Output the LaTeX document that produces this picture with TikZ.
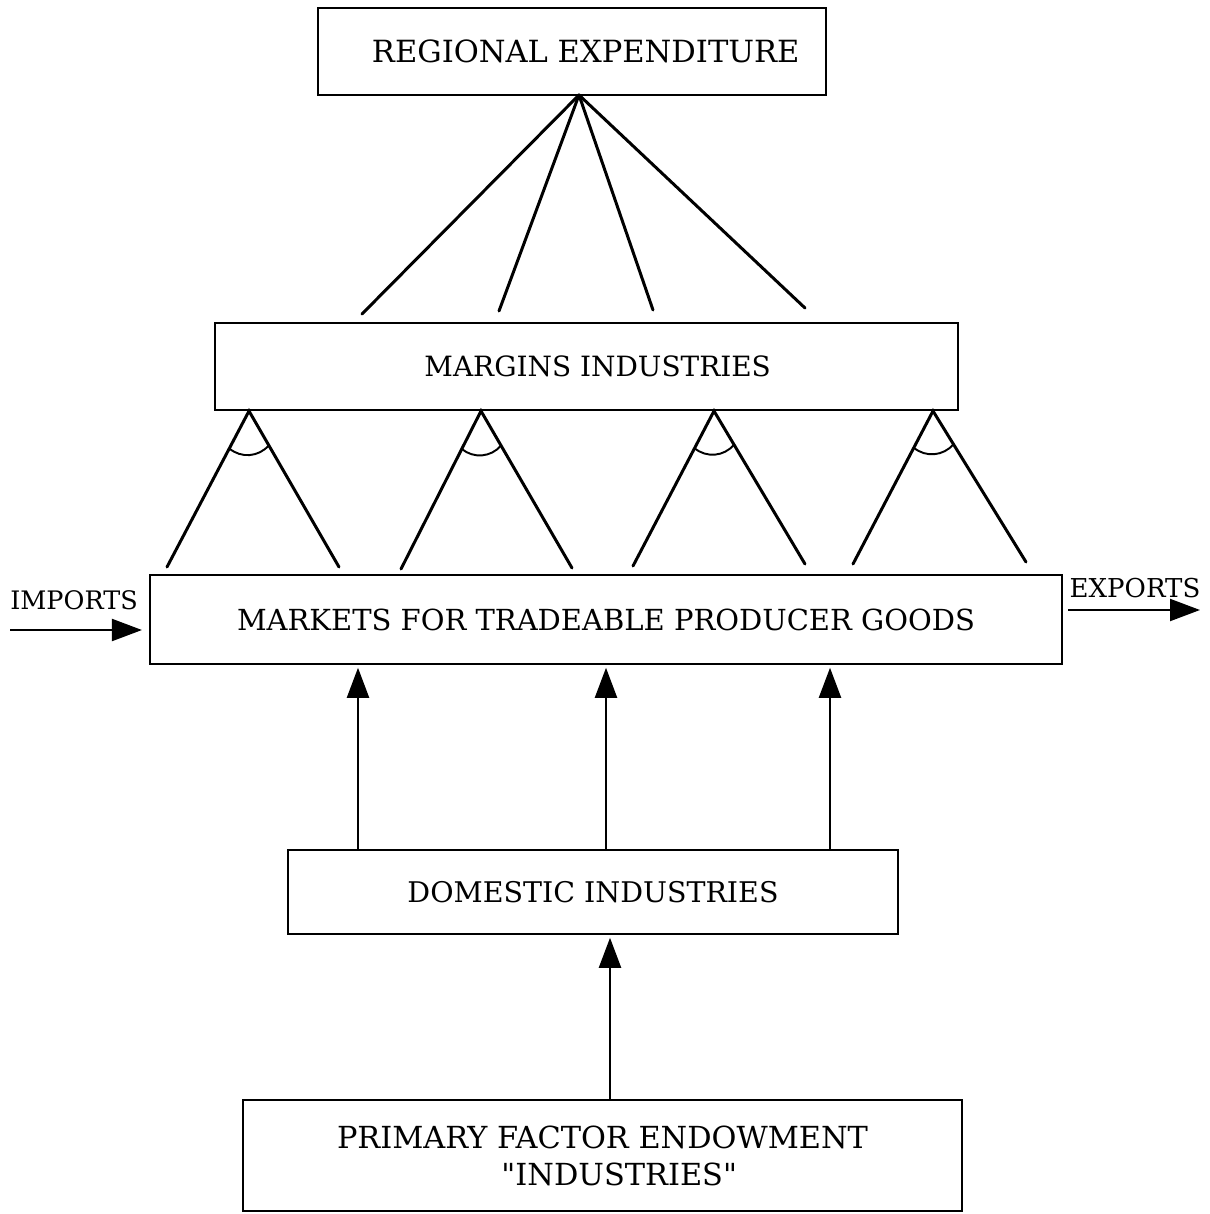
\documentclass[tikz,border=0pt]{standalone}
\usepackage{fontspec}
\setmainfont{DejaVu Serif}
\usepackage{tikz}
\usetikzlibrary{arrows.meta,
                calc}

\tikzset{
    block/.style = {draw, line width = 1.3pt, inner sep = 0pt, align = center},
    leg/.style = {line width = 1.7pt, line cap = round},
    arr/.style = {line width = 1.2pt, -{Triangle[length = 6mm, width = 4.4mm]}}
}

\begin{document}
\begin{tikzpicture}[x = 0.02cm, y = -0.02cm]
        \useasboundingbox (0, 0) rectangle (1210, 1214);

        \node [block, minimum width = 10.16cm, minimum height = 1.74cm,
               font = \fontsize{17.4}{20}\selectfont] (expend) at (572, 51.5) {\hspace*{0.9em}REGIONAL EXPENDITURE};
        \node [block, minimum width = 14.86cm, minimum height = 1.74cm,
               font = \fontsize{15.9}{19}\selectfont] (margins) at (586.5, 366.5) {\hspace*{0.8em}MARGINS INDUSTRIES};
        \node [block, minimum width = 18.24cm, minimum height = 1.78cm,
               font = \fontsize{16.5}{19}\selectfont] (markets) at (606, 619.5) {MARKETS FOR TRADEABLE PRODUCER GOODS};
        \node [block, minimum width = 12.2cm, minimum height = 1.68cm,
               font = \fontsize{16.2}{19}\selectfont] (domestic) at (593, 892) {DOMESTIC INDUSTRIES};
        \node [block, minimum width = 14.38cm, minimum height = 2.22cm,
               font = \fontsize{17.3}{21}\selectfont] (primary) at (602.5, 1155.5) {PRIMARY FACTOR ENDOWMENT\\\hspace*{1.1em}\textquotedbl INDUSTRIES\textquotedbl};

        \coordinate (apex) at (579, 95);
        \foreach \x/\y [count = \i] in {362/314, 499/311, 653/310, 805/308} {
            \coordinate (top\i) at (\x, \y);
            \draw [leg] (apex) -- (top\i);
        }

        \foreach \a/\l/\ly/\r/\ry [count = \i] in {249/167/567/339/567, 481/401/569/572/568,
                                                  714/633/566/805/564, 933/853/564/1026/562} {
            \coordinate (tip\i) at (\a, 411);
            \coordinate (left\i) at (\l, \ly);
            \coordinate (right\i) at (\r, \ry);
            \draw [leg] (left\i) -- (tip\i) -- (right\i);
            \draw [line width = 1.1pt] ($(tip\i)!0.24!(left\i)$) to [bend right = 45] ($(tip\i)!0.22!(right\i)$);
        }

        \foreach \x [count = \i] in {358, 606, 830} {
            \coordinate (up\i) at (\x, 0);
            \draw [arr, shorten > = 1.5pt] (domestic.north -| up\i) -- (markets.south -| up\i);
        }
        \coordinate (up4) at (610, 0);
        \draw [arr, shorten > = 1.5pt] (primary.north -| up4) -- (domestic.south -| up4);

        \coordinate (imp) at (10, 630);
        \coordinate (exp) at (1200, 610);
        \draw [arr, shorten > = 0.14cm] (imp) -- (markets.west |- imp);
        \draw [arr, shorten < = 0.1cm] (markets.east |- exp) -- (exp);
        \node [font = \fontsize{14.5}{17}\selectfont] (implabel) at (74, 600) {IMPORTS};
        \node [font = \fontsize{14.8}{17}\selectfont] (explabel) at (1135, 588) {EXPORTS};
    \end{tikzpicture}
\end{document}
